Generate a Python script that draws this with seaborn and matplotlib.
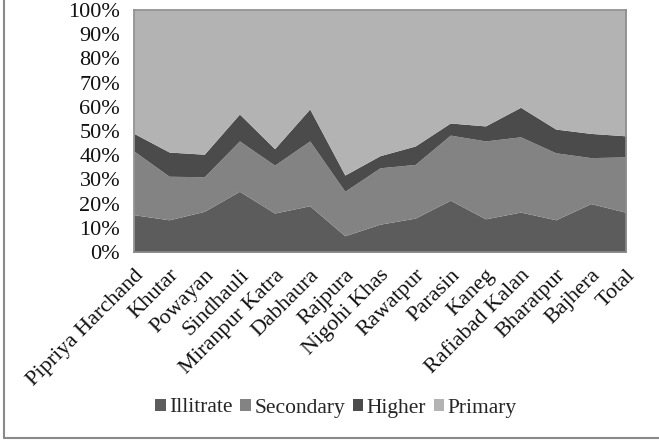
import matplotlib
matplotlib.use("Agg")
import matplotlib.pyplot as plt
from matplotlib.lines import Line2D
from matplotlib.patches import Patch
import numpy as np
import pandas as pd
import seaborn as sns

villages = ["Pipriya Harchand", "Khutar", "Powayan", "Sindhauli", "Miranpur Katra",
            "Dabhaura", "Rajpura", "Nigohi Khas", "Rawatpur", "Parasin", "Kaneg",
            "Rafiabad Kalan", "Bharatpur", "Bajhera", "Total"]
illitrate = [15.4, 13.3, 16.8, 25.1, 16.1, 19.1, 6.7, 11.5, 14.0, 21.4, 13.7, 16.5, 13.3, 20.0, 16.4]
secondary = [26.3, 18.0, 14.3, 20.8, 19.8, 26.8, 18.4, 23.3, 22.2, 26.9, 32.2, 31.1, 27.7, 19.0, 22.9]
higher = [7.3, 10.0, 9.3, 11.1, 6.8, 13.2, 6.7, 5.0, 7.6, 5.0, 6.2, 12.2, 9.8, 10.0, 8.7]
primary = [100 - a - b - c for a, b, c in zip(illitrate, secondary, higher)]

series = ["Illitrate", "Secondary", "Higher", "Primary"]
colors = ["#5c5c5c", "#838383", "#4b4b4b", "#b3b3b3"]

df = pd.DataFrame({"Village": villages, "Illitrate": illitrate, "Secondary": secondary,
                   "Higher": higher, "Primary": primary})

sns.set_theme(style="white")
plt.rcParams["font.family"] = ["Liberation Serif", "DejaVu Serif"]

fig = plt.figure(figsize=(6.59, 4.41), dpi=100)
ax = fig.add_axes([134 / 659, 1 - 252 / 441, (626 - 134) / 659, (252 - 10) / 441])

x = np.arange(len(villages))
totals = df[series].sum(axis=1).to_numpy()
ax.stackplot(x, *[df[s].to_numpy() / totals * 100 for s in series],
             colors=colors, linewidth=0)

ax.set_xlim(0, len(villages) - 1)
ax.set_ylim(0, 100)
ax.set_yticks(np.arange(0, 101, 10))
ax.set_yticklabels([f"{v}%" for v in range(0, 101, 10)], fontsize=16)
ax.set_xticks(x)
ax.set_xticklabels(villages, rotation=45, ha="right", rotation_mode="anchor", fontsize=16)
ax.tick_params(axis="y", length=0, pad=10)
ax.tick_params(axis="x", length=0, pad=10)
for lbl in ax.get_xticklabels() + ax.get_yticklabels():
    lbl.set_color("#111111")
for sp in ax.spines.values():
    sp.set_visible(True)
    sp.set_color("#8a8a8a")
    sp.set_linewidth(1.2)
ax.set_xlabel("")
ax.set_ylabel("")

handles = [Patch(facecolor=c, edgecolor="none") for c in colors]
fig.legend(handles, series, loc="center", bbox_to_anchor=(336 / 659, 1 - 408 / 441),
           ncol=4, frameon=False, fontsize=15.5, handlelength=0.5, handleheight=0.5,
           handletextpad=0.15, columnspacing=0.35, borderaxespad=0)

# chart frame: left and bottom edges
fig.add_artist(Line2D([4 / 659, 4 / 659], [3 / 441, 1], transform=fig.transFigure,
                      color="#8a8a8a", linewidth=1.5))
fig.add_artist(Line2D([4 / 659, 1], [3 / 441, 3 / 441], transform=fig.transFigure,
                      color="#8a8a8a", linewidth=1.5))

fig.savefig("out.png", dpi=100, facecolor="white")
